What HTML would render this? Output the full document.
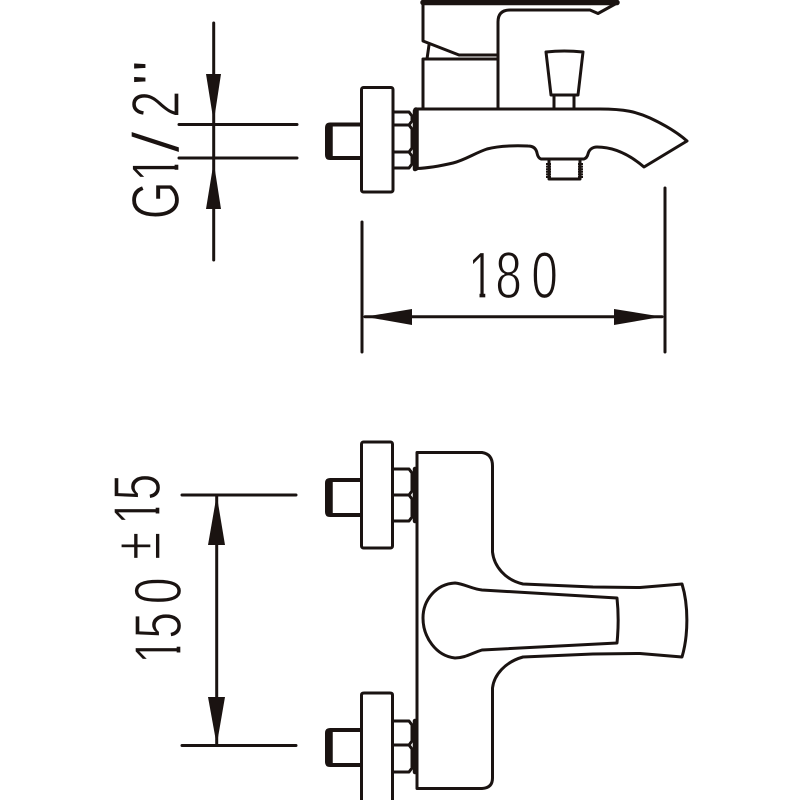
<!DOCTYPE html>
<html>
<head>
<meta charset="utf-8">
<style>
html,body{margin:0;padding:0;background:#fff;width:800px;height:800px;overflow:hidden}
svg{display:block}
text{font-family:"Liberation Sans",sans-serif;fill:#1a1311;stroke:#fff;stroke-width:1.3}
.l{fill:none;stroke:#1a1311;stroke-width:3;stroke-linejoin:round;stroke-linecap:round}
.b{stroke-width:5.5}
.a{fill:#1a1311;stroke:none}
.w{fill:#fff;stroke:none}
</style>
</head>
<body>
<svg width="800" height="800" viewBox="0 0 800 800" xmlns="http://www.w3.org/2000/svg">
<!-- Labels -->
<g transform="translate(468,298) scale(.72,1)">
<text font-size="66" x="0 38 88">180</text>
<rect class="w" x="0" y="-7" width="16" height="9"/><rect class="w" x="24" y="-7" width="14" height="9"/>
</g>
<g transform="translate(179,218) rotate(-90) scale(.72,1)">
<text font-size="68" x="-2">G</text>
<text font-size="68" x="50">1</text>
<rect class="w" x="50" y="-7" width="17" height="9"/><rect class="w" x="74" y="-7" width="16" height="9"/>
<text font-size="68" x="139">2</text>
</g>
<text font-size="66" transform="translate(179,153) rotate(-90) scale(1.2,1)">/</text>
<text font-size="68" transform="translate(173,86) rotate(-90) scale(1.1,.85)">"</text>
<g transform="translate(181,664) rotate(-90) scale(.72,1)">
<text font-size="67" x="0 35 83">150</text>
<rect class="w" x="0" y="-7" width="16" height="9"/><rect class="w" x="24" y="-7" width="11" height="9"/>
</g>
<text font-size="66" transform="translate(160,560) rotate(-90) scale(.78,1)">±</text>
<g transform="translate(160,525) rotate(-90) scale(.72,1)">
<text font-size="67" x="0 34">15</text>
<rect class="w" x="0" y="-7" width="16" height="9"/><rect class="w" x="24" y="-7" width="10" height="9"/>
</g>

<!-- Dimension lines -->
<g class="l">
<path d="M213.7 23V260M179 124.5H297M179 158H297"/>
<path d="M182 495H296M182 745.5H296M216.7 495V745"/>
<path d="M362 222V352M665 188V352M365 316.7H662"/>
</g>
<path class="a" d="M206 74H221L213.7 122Z"/>
<path class="a" d="M206 209H221L213.7 162Z"/>
<path class="a" d="M208 545H225L216.7 495Z"/>
<path class="a" d="M208 697H225L216.7 745Z"/>
<path class="a" d="M412 309V325L365 316.7Z"/>
<path class="a" d="M614 309V325L662 316.7Z"/>

<!-- Top view -->
<g class="l">
<path class="b" d="M423 2.5H617"/>
<path d="M423 1V41L459 55H498M617 3L598 13.5L590 10H510Q498 10 498 22V59"/>
<path d="M429 45L427 59"/>
<path d="M423 59H498V109M423 59V109"/>
<path d="M546 52Q564 50 583 52L578 95H551ZM554 95V108M574 95V108"/>
<path d="M417 109H600C625 109 637 112 650 118C665 125 678 133 687 141L644 167C630 155 615 147 597 147C592 147 589 150 588 154Q587 158 584 159H541Q538 158 537 153C536 148 533 146 528 146C515 145.500 498 146 487 149C475 153 465 160 453 163C440 166 430 168 417 168.500"/>
<path class="b" d="M416 110V168"/>
<path d="M549 160V179H580V160"/>
<path d="M548.500 163V178M580.500 163V178" style="stroke-width:5;stroke-dasharray:2 .6;stroke-linecap:butt"/>
<rect x="361.500" y="87.500" width="31.500" height="104.500" rx="2"/>
<path d="M393 112H409L412 116V121L409 125H393M409 125L412 129V148L409 152H393M409 152L412 156V164L409 168H393"/>
<path class="b" d="M415 111V169" style="stroke-width:4.500"/>
<path class="b" d="M330 126V156"/>
<path d="M361 124.500H330Q327 124.500 327 128V155Q327 158 330 158H361" style="stroke-width:4"/>
</g>

<!-- Bottom view -->
<g class="l">
<path d="M417 452.500H482Q492.500 454 492.500 466V552C494 566 505 580 523 584L593 587L640 587.500L682 584C688.500 605 688.500 635 682 657L640 653.500L593 654L523 657C505 662 494 675 492.500 688V778Q492.500 788 482 788.500H417Z"/>
<path d="M617 598C618.500 612 618.500 628 617 643L482 650C472 653 465 658 455 658C436 656 423 637 423 618C423 600 436 584 455 583C465 584 472 589 482 590Z"/>
<rect x="361.500" y="442" width="31" height="106" rx="2"/>
<path d="M393 469H409L412 473V491L409 495H393M409 495L412 499V517L409 521H393"/>
<path class="b" d="M415 469V521" style="stroke-width:4.500"/>
<path class="b" d="M330 482V513"/>
<path d="M361 480H330Q327 480 327 483V512Q327 515 330 515H361" style="stroke-width:4"/>
<path d="M361.500 800V695Q361.500 693 364 693H390Q392.500 693 392.500 695V800"/>
<path d="M393 721H409L412 725V741L409 745H393M409 745L412 749V768L409 772H393"/>
<path class="b" d="M415 721V772" style="stroke-width:4.500"/>
<path class="b" d="M330 732V763"/>
<path d="M361 730H330Q327 730 327 733V762Q327 765 330 765H361" style="stroke-width:4"/>
</g>
</svg>
</body>
</html>
